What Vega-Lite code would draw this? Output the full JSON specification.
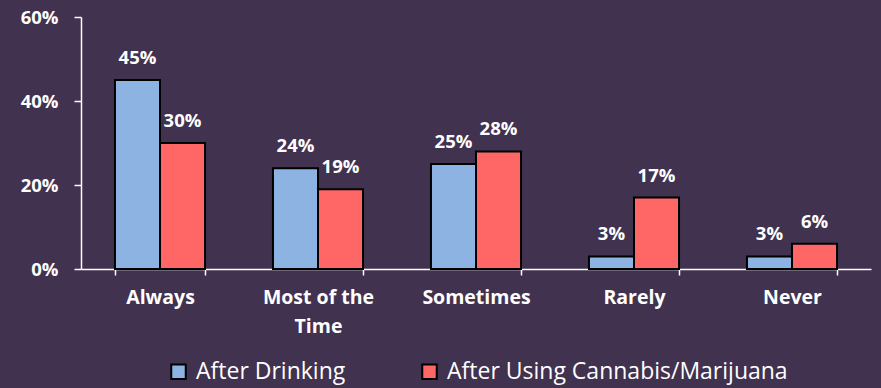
{
  "$schema": "https://vega.github.io/schema/vega-lite/v6.json",
  "width": 790,
  "height": 252,
  "autosize": "none",
  "padding": {"left": 81, "top": 17, "right": 10, "bottom": 119},
  "background": "#41324F",
  "config": {
    "view": {"stroke": null},
    "font": "Open Sans"
  },
  "data": {
    "values": [
      {"freq": "Always", "series": "After Drinking", "value": 0.45},
      {"freq": "Always", "series": "After Using Cannabis/Marijuana", "value": 0.30},
      {"freq": "Most of the Time", "series": "After Drinking", "value": 0.24},
      {"freq": "Most of the Time", "series": "After Using Cannabis/Marijuana", "value": 0.19},
      {"freq": "Sometimes", "series": "After Drinking", "value": 0.25},
      {"freq": "Sometimes", "series": "After Using Cannabis/Marijuana", "value": 0.28},
      {"freq": "Rarely", "series": "After Drinking", "value": 0.03},
      {"freq": "Rarely", "series": "After Using Cannabis/Marijuana", "value": 0.17},
      {"freq": "Never", "series": "After Drinking", "value": 0.03},
      {"freq": "Never", "series": "After Using Cannabis/Marijuana", "value": 0.06}
    ]
  },
  "encoding": {
    "x": {
      "field": "freq", "type": "nominal", "sort": null,
      "scale": {"paddingInner": 0.43, "paddingOuter": 0.215},
      "axis": {
        "title": null, "labelAngle": 0, "domainColor": "white", "domainWidth": 1.5,
        "tickColor": "white", "tickWidth": 1.5, "tickSize": 6, "tickBand": "extent",
        "labelColor": "white", "labelFont": "Open Sans", "labelFontSize": 19.5, "labelFontWeight": "bold",
        "labelPadding": 13, "labelLineHeight": 29, "labelBaseline": "top",
        "labelExpr": "datum.value == 'Most of the Time' ? ['Most of the', 'Time'] : datum.value"
      }
    },
    "xOffset": {"field": "series", "type": "nominal", "scale": {"paddingInner": 0, "paddingOuter": 0}},
    "y": {
      "field": "value", "type": "quantitative",
      "scale": {"domain": [0, 0.6]},
      "axis": {
        "title": null, "values": [0, 0.2, 0.4, 0.6], "format": ".0%", "grid": false,
        "domainColor": "white", "domainWidth": 1.5, "tickColor": "white", "tickWidth": 1.5, "tickSize": 7,
        "labelColor": "white", "labelFont": "Open Sans", "labelFontSize": 18.5, "labelFontWeight": "bold",
        "labelPadding": 16
      }
    }
  },
  "layer": [
    {
      "mark": {"type": "bar", "stroke": "black", "strokeWidth": 2},
      "encoding": {
        "color": {
          "field": "series", "type": "nominal",
          "scale": {"domain": ["After Drinking", "After Using Cannabis/Marijuana"], "range": ["#8DB3E2", "#FF6666"]},
          "legend": {
            "title": null, "orient": "none", "direction": "horizontal", "legendX": 86, "legendY": 343,
            "symbolType": "square", "symbolSize": 210, "symbolStrokeColor": "black", "symbolStrokeWidth": 2,
            "symbolOpacity": 1, "labelColor": "white", "labelFont": "Open Sans", "labelFontSize": 23,
            "labelFontWeight": "normal", "columnPadding": 72, "labelOffset": 6, "labelLimit": 420
          }
        }
      }
    },
    {
      "mark": {"type": "text", "baseline": "bottom", "dy": -12, "color": "white", "font": "Open Sans", "fontSize": 18.5, "fontWeight": "bold"},
      "encoding": {
        "text": {"field": "value", "type": "quantitative", "format": ".0%"}
      }
    }
  ]
}
